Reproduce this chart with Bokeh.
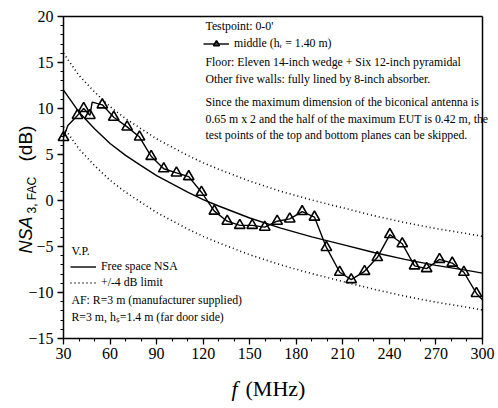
import numpy as np
from math import pi
from bokeh.plotting import figure
from bokeh.models import Label, Legend, LegendItem, FixedTicker, Range1d, LinearAxis
from bokeh.embed import file_html
from bokeh.resources import INLINE

# ---------------- data ----------------
meas_f = [30, 39, 43, 47, 55, 62.4, 71, 79, 86.5, 94.6, 102.8, 110.7, 118.9, 127.2,
          135.5, 143.6, 151.6, 159.7, 167.7, 175.8, 183.8, 191.7, 199.4, 208, 215.4,
          224, 232.2, 240.3, 248.3, 256.2, 264, 272.3, 280.5, 288, 296.1]
meas_nsa = [6.85, 9.25, 10.0, 9.25, 10.4, 9.05, 8.0, 6.9, 4.8, 3.45, 3.0, 2.6, 0.9, -1.15,
            -2.25, -2.7, -2.7, -2.9, -2.25, -2.0, -1.2, -1.8, -5.1, -7.8, -8.6,
            -7.7, -6.2, -3.7, -4.7, -7.1, -7.4, -6.4, -6.8, -7.8, -10.1]
# line vertices without a marker
extra_f = [32.8, 48.5, 300]
extra_nsa = [8.15, 10.7, -10.8]

fs_f = [30, 40, 50, 60, 70, 80, 90, 100, 110, 120, 130, 150, 170, 190, 210, 230, 250, 270, 290, 300]
fs_nsa = [12.0, 9.6, 7.8, 6.2, 4.9, 3.8, 2.7, 1.8, 0.9, 0.1, -0.6, -1.9, -3.0, -3.95, -4.8,
          -5.65, -6.4, -7.05, -7.6, -7.9]
limit_db = 4

x_lim = (30, 300)
y_lim = (-15, 20)
x_ticks = [30, 60, 90, 120, 150, 180, 210, 240, 270, 300]
x_minor = list(range(30, 301, 10))
y_ticks = [-15, -10, -5, 0, 5, 10, 15, 20]
y_minor = list(range(-15, 21))

top_texts = ["Testpoint: 0-0'",
             "Floor: Eleven 14-inch wedge + Six 12-inch pyramidal",
             "Other five walls: fully lined by 8-inch absorber.",
             "Since the maximum dimension of the biconical antenna is",
             "0.65 m x 2 and the half of the maximum EUT is 0.42 m, the",
             "test points of the top and bottom planes can be skipped."]
bottom_texts = ["V.P.", "AF: R=3 m (manufacturer supplied)", "R=3 m, hₛ=1.4 m (far door side)"]

# ---------------- layout (image pixels) ----------------
W, H = 498, 408
FL, FR, FT, FB = 63, 482, 16, 338          # chart box in pixels
def dx(px):
    return x_lim[0] + (px - FL) * (x_lim[1] - x_lim[0]) / (FR - FL)
def dy(py):
    return y_lim[1] - (py - FT) * (y_lim[1] - y_lim[0]) / (FB - FT)

p = figure(width=W, height=H, x_range=Range1d(dx(0), dx(W)), y_range=Range1d(dy(H), dy(0)),
           output_backend="svg", toolbar_location=None, x_axis_type=None, y_axis_type=None,
           min_border=0, min_border_left=0, min_border_right=0,
           min_border_top=0, min_border_bottom=0)
p.xgrid.visible = False
p.ygrid.visible = False
p.outline_line_color = None
p.background_fill_color = "white"
p.border_fill_color = "white"

def make_axis(loc, bounds, ticks, minor, labels=True):
    ax = LinearAxis(fixed_location=loc, bounds=bounds,
                    ticker=FixedTicker(ticks=ticks, minor_ticks=minor))
    ax.axis_line_width = 1.5
    ax.axis_line_color = "black"
    ax.major_tick_line_color = "black"
    ax.minor_tick_line_color = "black"
    ax.major_tick_line_width = 1.3
    ax.minor_tick_line_width = 1.1
    ax.major_tick_out = 6 if labels else 0
    ax.major_tick_in = 0
    ax.minor_tick_out = 3 if labels else 0
    ax.minor_tick_in = 0
    ax.major_label_text_font = "Liberation Sans Narrow"
    ax.major_label_text_font_size = "16px"
    ax.major_label_text_color = "black"
    if not labels:
        ax.major_label_text_alpha = 0
    return ax

xb = make_axis(y_lim[0], x_lim, x_ticks, x_minor)
xb.major_label_standoff = 3
p.add_layout(xb, "below")
yl = make_axis(x_lim[0], y_lim, y_ticks, y_minor)
yl.major_label_standoff = 4
p.add_layout(yl, "left")
p.add_layout(make_axis(y_lim[1], x_lim, [], [], labels=False), "above")
p.add_layout(make_axis(x_lim[1], y_lim, [], [], labels=False), "right")

# limits and free space
fs = np.array(fs_nsa)
p.line(fs_f, fs + limit_db, line_color="black", line_width=1.6, line_dash="1 3")
lim_r = p.line(fs_f, fs - limit_db, line_color="black", line_width=1.6, line_dash="1 3")
fs_r = p.line(fs_f, fs_nsa, line_color="black", line_width=1.4)

# measured
line_f = np.array(meas_f + extra_f)
line_v = np.array(meas_nsa + extra_nsa)
order = np.argsort(line_f)
m_line = p.line(line_f[order], line_v[order], line_color="black", line_width=1.4)
m_pts = p.scatter(meas_f, meas_nsa, marker="triangle", size=10.5, fill_alpha=0,
                  line_color="black", line_width=1.6)

def style_legend(lg):
    lg.border_line_alpha = 0
    lg.background_fill_alpha = 0
    lg.padding = 0
    lg.margin = 0
    lg.spacing = 1
    lg.glyph_width = 26
    lg.glyph_height = 15
    lg.label_height = 15
    lg.label_standoff = 5
    lg.label_text_font = "Liberation Serif"
    lg.label_text_font_size = "11.8px"
    lg.label_text_color = "black"

leg_top = Legend(items=[LegendItem(label="middle (hᵣ = 1.40 m)", renderers=[m_line, m_pts])],
                 location=(203, H - 43 - 7.5))
style_legend(leg_top)
p.add_layout(leg_top)

leg_bot = Legend(items=[LegendItem(label="Free space NSA", renderers=[fs_r]),
                        LegendItem(label="+/-4 dB limit", renderers=[lim_r])],
                 location=(70, H - 282 - 7.5))
style_legend(leg_bot)
p.add_layout(leg_bot)

def add_text(px, py, txt, size="11.8px", font="Liberation Serif", style="normal",
             angle=0, baseline="middle", align="left"):
    p.add_layout(Label(x=dx(px), y=dy(py), text=txt, text_font=font, text_font_size=size,
                       text_font_style=style, angle=angle, text_baseline=baseline,
                       text_align=align, text_color="black"))

top_y = [25, 61, 78, 101, 118, 134]
for t, yy in zip(top_texts, top_y):
    add_text(205, yy, t)

bot_y = [250, 299, 316]
for t, yy in zip(bottom_texts, bot_y):
    add_text(71, yy, t)

# y-axis title
add_text(25, 253, "NSA", size="18px", font="Liberation Sans", style="italic",
         angle=pi / 2, baseline="alphabetic")
add_text(31, 213, "3, FAC", size="12px", font="Liberation Sans",
         angle=pi / 2, baseline="alphabetic")
add_text(25, 161, "(dB)", size="19px", font="Liberation Sans",
         angle=pi / 2, baseline="alphabetic")

# x-axis title
add_text(231, 388, "f", size="22px", style="italic", baseline="alphabetic")
add_text(245, 388, "(MHz)", size="22px", baseline="alphabetic")

open("out.html", "w").write(file_html(p, INLINE))
